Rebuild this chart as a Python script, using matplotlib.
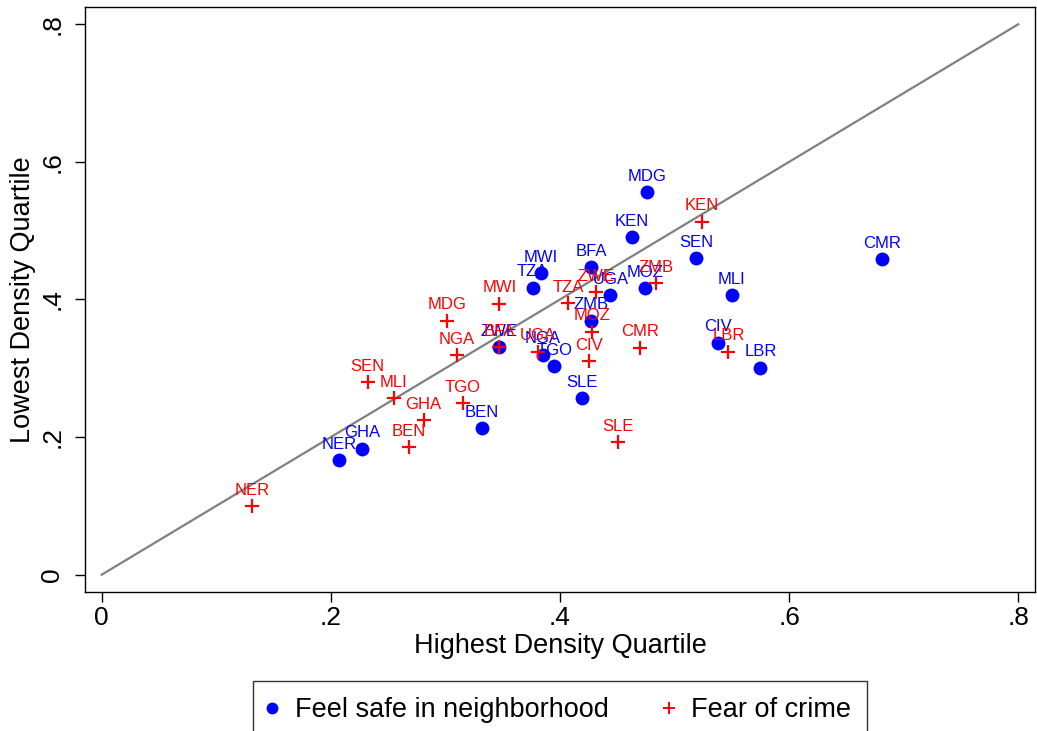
import matplotlib
matplotlib.use("Agg")
import matplotlib.pyplot as plt
from matplotlib.lines import Line2D

plt.rcParams['font.family'] = ['Liberation Sans', 'DejaVu Sans']

# feel safe in neighborhood (blue dots)
safe_names = ["NER", "GHA", "BEN", "SLE", "TGO", "NGA", "ZWE", "ZMB", "UGA", "MOZ",
              "BFA", "TZA", "MWI", "KEN", "MDG", "SEN", "MLI", "CIV", "LBR", "CMR"]
safe_x = [0.207, 0.227, 0.332, 0.419, 0.395, 0.385, 0.347, 0.427, 0.444, 0.474,
          0.427, 0.376, 0.383, 0.463, 0.476, 0.519, 0.550, 0.538, 0.575, 0.681]
safe_y = [0.166, 0.183, 0.213, 0.257, 0.303, 0.320, 0.331, 0.369, 0.406, 0.416,
          0.447, 0.417, 0.438, 0.491, 0.556, 0.460, 0.406, 0.337, 0.301, 0.459]

# fear of crime (red pluses)
fear_names = ["NER", "BEN", "GHA", "MLI", "SEN", "TGO", "NGA", "MDG", "MWI", "BFA",
              "UGA", "CIV", "MOZ", "TZA", "ZWE", "CMR", "SLE", "ZMB", "KEN", "LBR"]
fear_x = [0.131, 0.268, 0.281, 0.255, 0.232, 0.315, 0.310, 0.301, 0.347, 0.347,
          0.381, 0.425, 0.428, 0.407, 0.431, 0.470, 0.451, 0.484, 0.524, 0.547]
fear_y = [0.100, 0.185, 0.225, 0.257, 0.280, 0.249, 0.319, 0.369, 0.394, 0.331,
          0.324, 0.310, 0.353, 0.395, 0.411, 0.330, 0.193, 0.424, 0.513, 0.324]

diag = [0, 0.8]
ticks = [0, 0.2, 0.4, 0.6, 0.8]
tick_labels = ["0", ".2", ".4", ".6", ".8"]

fig = plt.figure(figsize=(10.37, 7.31), dpi=100)
ax = fig.add_axes([85 / 1037, 1 - 592 / 731, 950 / 1037, 585 / 731])

ax.plot(diag, diag, color="#808080", lw=1.6, zorder=1)

ax.scatter(safe_x, safe_y, s=100, color="blue", linewidths=0, zorder=3)
for n, x, y in zip(safe_names, safe_x, safe_y):
    ax.annotate(n, (x, y), xytext=(0, 6), textcoords="offset points",
                ha="center", va="bottom", fontsize=12, color="blue", zorder=4)

ax.scatter(fear_x, fear_y, s=90, marker="+", color="red", linewidths=1.6, zorder=5)
for n, x, y in zip(fear_names, fear_x, fear_y):
    ax.annotate(n, (x, y), xytext=(0, 6), textcoords="offset points",
                ha="center", va="bottom", fontsize=12, color="red", zorder=6)

ax.set_xlim(-0.0146, 0.8146)
ax.set_ylim(-0.0252, 0.8251)
ax.set_xticks(ticks)
ax.set_xticklabels(tick_labels)
ax.set_yticks(ticks)
ax.set_yticklabels(tick_labels, rotation=90, va="center")
ax.tick_params(direction="out", length=7, width=1, labelsize=19, pad=3)
ax.tick_params(axis="y", pad=8)
for sp in ax.spines.values():
    sp.set_linewidth(1.0)

ax.set_xlabel("Highest Density Quartile", fontsize=19.5, labelpad=2)
ax.set_ylabel("Lowest Density Quartile", fontsize=19.5, labelpad=3)

handles = [
    Line2D([], [], marker="o", color="blue", ls="none", markersize=7.5),
    Line2D([], [], marker="+", color="red", ls="none", markersize=8.5, markeredgewidth=1.4),
]
leg = fig.legend(handles, ["Feel safe in neighborhood", "Fear of crime"],
                 loc="upper center", bbox_to_anchor=(560 / 1037, 1 - 681 / 731),
                 ncol=2, fontsize=19.5, frameon=True, fancybox=False,
                 handlelength=0.25, handletextpad=0.7, columnspacing=2.1,
                 borderpad=0.6, borderaxespad=0)
leg.get_frame().set_edgecolor("black")
leg.get_frame().set_linewidth(1.0)

fig.savefig("out.png", dpi=100)
